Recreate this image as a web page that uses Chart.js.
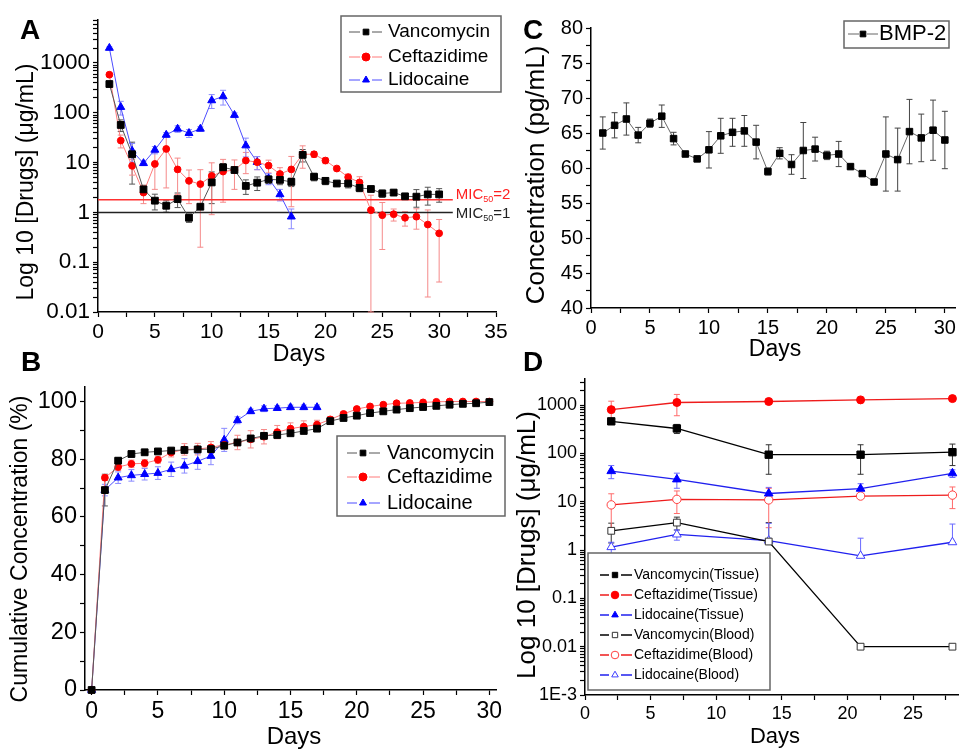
<!DOCTYPE html>
<html>
<head>
<meta charset="utf-8">
<script src="https://cdn.jsdelivr.net/npm/chart.js@4.4.1/dist/chart.umd.min.js"></script>
<style>
  body { margin: 0; background: #fff; width: 959px; height: 749px; position: relative; overflow: hidden; font-family: "Liberation Sans", Arial, sans-serif; }
  .panel { position: absolute; }
  .tag { position: absolute; font: bold 28px "Liberation Sans", Arial, sans-serif; line-height: 28px; color: #000; }
</style>
</head>
<body>
<div class="panel" style="left:0;top:0;width:525px;height:370px"><canvas id="chartA"></canvas></div>
<div class="panel" style="left:0;top:370px;width:525px;height:379px"><canvas id="chartB"></canvas></div>
<div class="panel" style="left:480px;top:0;width:479px;height:370px"><canvas id="chartC"></canvas></div>
<div class="panel" style="left:480px;top:365px;width:479px;height:384px"><canvas id="chartD"></canvas></div>
<div class="tag" style="left:20px;top:16px">A</div>
<div class="tag" style="left:21px;top:348px">B</div>
<div class="tag" style="left:523px;top:16px">C</div>
<div class="tag" style="left:523px;top:348px">D</div>

<script>
// ---- panel A: daily release, log scale ----
const daysA = [1,2,3,4,5,6,7,8,9,10,11,12,13,14,15,16,17,18,19,20,21,22,23,24,25,26,27,28,29,30];
const vancA = [378,57,14.7,2.9,1.72,1.36,1.85,0.78,1.3,4.0,8.05,7.1,3.4,3.95,4.6,4.5,4.1,14.3,5.2,4.3,3.8,3.8,3.1,2.95,2.4,2.5,2.1,2.07,2.3,2.3];
const vancAErr = [30,15,11,0.6,0.6,0.35,0.6,0.15,0.1,2.5,1.5,0.8,1.1,1.2,0.8,0.9,0.8,4,0.9,0.7,0.4,0.7,0.5,0.2,0.4,0.3,0.2,0.8,0.9,0.7];
const ceftA = [582,27.7,8.6,2.5,9.4,18.8,7.3,4.3,3.7,5.4,6.6,7.1,11,10.2,8.7,5.9,7.3,14.7,14.7,11,7.6,5.1,4.0,1.11,0.88,0.92,0.78,0.82,0.57,0.38];
const ceftAErr = [40,8,3,1,6.5,15.7,5,2.8,3.5,4.5,5,4.2,5,3,2.5,2,6,7,2,1.5,0.8,0.8,1.2,1.1,0.7,0.25,0.25,0.36,0.55,0.34];
const lidoDaysA = [1,2,3,4,5,6,7,8,9,10,11,12,13,14,15,16,17];
const lidoA = [2000,130,17.2,9.7,18,36,47.6,39,47.6,177,213,90,22,10.2,4.8,2.3,0.82];
const lidoAErr = [100,40,7,1,3,4,7,7,5,55,70,10,9,3,1.2,0.6,0.35];
const micLevels = [1.8, 1];
const micLabels = ['2', '1'];
const micLineEnd = 31.2;

// ---- panel B: cumulative release ----
const daysB = [0,1,2,3,4,5,6,7,8,9,10,11,12,13,14,15,16,17,18,19,20,21,22,23,24,25,26,27,28,29,30];
const vancB = [0,69.3,79.5,81.8,82.4,82.7,83.0,83.2,83.4,83.5,84.7,85.8,87.2,88.1,88.4,89.0,89.8,90.6,93.2,94.3,95.1,96.0,96.6,97.2,97.7,98.1,98.5,98.9,99.2,99.4,99.8];
const vancBErr = [0,5.5,1,0.6,0.5,0.5,0.5,0.6,0.6,0.6,0.8,1,1,1,1,0.8,0.8,0.8,0.6,0.6,0.5,0.5,0.4,0.4,0.4,0.3,0.3,0.3,0.3,0.3,0.2];
const ceftB = [0,73.6,77.3,78.4,78.6,79.8,82.3,83.4,83.5,84.1,85.0,85.8,86.9,87.8,89.4,90.6,91.3,92.0,93.8,95.7,97.4,98.3,98.9,99.4,99.5,99.7,99.9,100,100,100,100];
const ceftBErr = [0,1,1.2,1.3,1.3,1.2,1.5,2,2,2,1.5,2.5,3,2.5,2.3,2,2,1.5,1,0.8,0.6,0.5,0.4,0.4,0.3,0.3,0.3,0.3,0.3,0.3,0.2];
const lidoDaysB = [0,1,2,3,4,5,6,7,8,9,10,11,12,13,14,15,16,17];
const lidoB = [0,69.3,73.6,74.4,74.8,75.2,76.5,77.7,79.3,81.1,86.7,93.5,96.6,97.5,97.7,98.0,98.0,98.0];
const lidoBErr = [0,2,2,2,2,2.2,2.5,2.5,2.8,3,4,1.2,0.8,1,0.8,0.8,0.8,0.8];

// ---- panel C: BMP-2 ----
const daysC = [1,2,3,4,5,6,7,8,9,10,11,12,13,14,15,16,17,18,19,20,21,22,23,24,25,26,27,28,29,30];
const bmp2C = [65.0,66.1,67.0,64.7,66.4,67.4,64.2,62.0,61.3,62.6,64.6,65.1,65.3,63.7,59.5,62.1,60.5,62.5,62.7,61.8,62.0,60.2,59.2,58.0,62.0,61.2,65.2,64.3,65.4,64.0];
const bmp2CErr = [2.3,1.8,2.3,1.1,0.6,1.6,0.9,0.3,0.2,2.6,2.5,2.0,2.2,2.4,0.5,0.8,1.4,4.0,1.7,0.6,1.8,0.3,0.3,0.3,5.3,4.5,4.6,3.4,4.3,4.1];

// ---- panel D: tissue / blood ----
const daysD = [2,7,14,21,28];
const vancTissueD = [461,328,94,94,106];
const vancTissueDErr = [50,70,57,57,50];
const ceftTissueD = [805,1132,1186,1282,1362];
const ceftTissueDErr = [400,530,150,100,80];
const lidoTissueD = [43,29,14.8,18.6,38.7];
const lidoTissueDErr = [13,10,5,5,7];
const vancBloodD = [2.5,3.7,1.5,0.01,0.01];
const vancBloodDErr = [1.1,1.1,2.2,0,0];
const ceftBloodD = [8.6,11.2,10.9,13.1,13.7];
const ceftBloodDErr = [6,5.5,8,1.5,6.5];
const lidoBloodD = [1.15,2.1,1.57,0.76,1.45];
const lidoBloodDErr = [0.3,0.5,2,1.0,2.0];

const FONT = '"Liberation Sans", Arial, Helvetica, sans-serif';
Chart.defaults.font.family = FONT;
Chart.defaults.color = '#000';

// vertical error bars, drawn through the scales
const errorBars = {
  id: 'errorBars',
  beforeDatasetsDraw(chart) {
    const { ctx, scales: { x, y } } = chart;
    chart.data.datasets.forEach(ds => {
      if (!ds.errors) return;
      ctx.save();
      ctx.strokeStyle = ds.errorColor || ds.borderColor;
      ctx.lineWidth = 1;
      const cap = ds.errorCap || 3;
      ds.data.forEach((p, j) => {
        const e = ds.errors[j];
        if (!e) return;
        const px = x.getPixelForValue(p.x);
        const py = y.getPixelForValue(p.y);
        const top = y.getPixelForValue(p.y + e);
        const lo = p.y - e;
        const hasLow = y.type !== 'logarithmic' || lo > 0;
        const bottom = hasLow ? y.getPixelForValue(lo) : py;
        ctx.beginPath();
        ctx.moveTo(px, top); ctx.lineTo(px, bottom);
        ctx.moveTo(px - cap, top); ctx.lineTo(px + cap, top);
        if (hasLow) { ctx.moveTo(px - cap, bottom); ctx.lineTo(px + cap, bottom); }
        ctx.stroke();
      });
      ctx.restore();
    });
  }
};

// Origin-style boxed legend
const boxLegend = {
  id: 'boxLegend',
  afterDraw(chart, args, o) {
    if (!o.box) return;
    const ctx = chart.ctx;
    const [bx, by, bw, bh] = o.box;
    ctx.save();
    ctx.fillStyle = '#fff';
    ctx.fillRect(bx, by, bw, bh);
    ctx.strokeStyle = '#666';
    ctx.lineWidth = 1.5;
    ctx.strokeRect(bx, by, bw, bh);
    ctx.font = o.font;
    ctx.textBaseline = 'middle';
    ctx.textAlign = 'left';
    const items = chart.data.datasets.filter(d => d.label);
    items.forEach((ds, i) => {
      const y = o.rows[i];
      ctx.strokeStyle = ds.borderColor;
      ctx.lineWidth = ds.borderWidth;
      ctx.beginPath();
      ctx.moveTo(o.line[0], y); ctx.lineTo(o.mark - o.gap, y);
      ctx.moveTo(o.mark + o.gap, y); ctx.lineTo(o.line[1], y);
      ctx.stroke();
      ctx.fillStyle = ds.pointBackgroundColor;
      ctx.strokeStyle = ds.pointBorderColor;
      ctx.lineWidth = 1;
      Chart.helpers.drawPoint(ctx, { pointStyle: ds.pointStyle, rotation: 0, radius: o.r, borderWidth: 1 }, o.mark, y);
      ctx.fillStyle = '#000';
      ctx.fillText(ds.label, o.text, y);
    });
    ctx.restore();
  }
};

// axis titles
const panelText = {
  id: 'panelText',
  afterDraw(chart, args, o) {
    if (!o.items) return;
    const ctx = chart.ctx;
    o.items.forEach(it => {
      ctx.save();
      ctx.translate(it.x, it.y);
      if (it.rot) ctx.rotate(it.rot);
      ctx.font = it.size + 'px ' + FONT;
      ctx.fillStyle = '#000';
      ctx.textAlign = 'center';
      ctx.textBaseline = 'middle';
      ctx.fillText(it.text, 0, 0);
      ctx.restore();
    });
  }
};

// MIC labels at the end of the reference lines
const endLabels = {
  id: 'endLabels',
  afterDatasetsDraw(chart) {
    const { ctx, scales: { x, y } } = chart;
    chart.data.datasets.forEach(ds => {
      if (!ds.endLabel) return;
      const last = ds.data[ds.data.length - 1];
      let px = x.getPixelForValue(last.x) + 3;
      const py = y.getPixelForValue(last.y) + ds.endLabel.dy;
      ctx.save();
      ctx.fillStyle = ds.endLabel.color;
      ctx.textBaseline = 'middle';
      ctx.textAlign = 'left';
      ds.endLabel.parts.forEach(([t, sub]) => {
        ctx.font = (sub ? '9px ' : '15px ') + FONT;
        ctx.fillText(t, px, sub ? py + 5 : py);
        px += ctx.measureText(t).width;
      });
      ctx.restore();
    });
  }
};

Chart.register(errorBars, boxLegend, panelText, endLabels);

function stepTicks(min, max, step) {
  const out = [];
  for (let v = min; v <= max + 1e-9; v += step) out.push(+v.toFixed(6));
  return out;
}
function logTicks(min, max) {
  const out = [];
  for (let e = Math.floor(Math.log10(min)); e <= Math.ceil(Math.log10(max)); e++) {
    for (let m = 1; m < 10; m++) {
      const v = +(m * Math.pow(10, e)).toPrecision(6);
      if (v >= min * 0.999 && v <= max) out.push(v);
    }
  }
  return out;
}
const isPow10 = v => Math.abs(Math.log10(v) - Math.round(Math.log10(v))) < 1e-9;
const every = n => v => (Math.abs(v / n - Math.round(v / n)) < 1e-6 ? String(v) : '');

function axis(type, min, max, values, label, size, fit, vertical) {
  return {
    type, min, max,
    border: { color: '#000', width: 1.5 },
    grid: { drawOnChartArea: false, drawTicks: true, tickLength: 5, color: '#000', tickWidth: 1.2 },
    ticks: { autoSkip: false, maxRotation: 0, color: '#000', font: { size }, padding: 3, callback: label },
    afterBuildTicks: s => { s.ticks = values.map(v => ({ value: v })); },
    afterFit: s => { if (vertical) s.width = fit; else s.height = fit; }
  };
}

function series(label, xs, ys, errs, st) {
  return {
    label,
    data: ys.map((v, i) => ({ x: xs[i], y: v })),
    errors: errs,
    errorColor: st.err,
    borderColor: st.line,
    borderWidth: st.lw || 1,
    pointStyle: st.shape,
    pointRadius: st.r,
    pointBackgroundColor: st.fill || st.mark,
    pointBorderColor: st.mark,
    pointBorderWidth: 1,
    tension: 0,
    clip: false
  };
}

function options(pad, x, y, legend, titles) {
  return {
    responsive: true,
    maintainAspectRatio: false,
    animation: false,
    events: [],
    layout: { padding: pad, autoPadding: false },
    scales: { x, y },
    plugins: {
      legend: { display: false },
      tooltip: { enabled: false },
      boxLegend: legend,
      panelText: { items: titles }
    }
  };
}

const VANC = { line: '#555', mark: '#000', err: '#555', shape: 'rect', r: 4.8 };
const CEFT = { line: '#ff7a7a', mark: '#ff0000', err: '#f58a8a', shape: 'circle', r: 3.4 };
const LIDO = { line: '#4d4dff', mark: '#0000ff', err: '#8a8aff', shape: 'triangle', r: 4.6 };

// ---- A ----
const micSets = micLevels.map((lvl, i) => ({
  data: [{ x: 0, y: lvl }, { x: micLineEnd, y: lvl }],
  borderColor: i === 0 ? '#ff3030' : '#222',
  borderWidth: 1.5,
  pointRadius: 0,
  clip: false,
  endLabel: { parts: [['MIC', 0], ['50', 1], ['=' + micLabels[i], 0]], dy: i === 0 ? -5 : 1, color: i === 0 ? '#ff2020' : '#222' }
}));

new Chart(document.getElementById('chartA'), {
  type: 'line',
  data: {
    datasets: [
      series('Vancomycin', daysA, vancA, vancAErr, VANC),
      series('Ceftazidime', daysA, ceftA, ceftAErr, CEFT),
      series('Lidocaine', lidoDaysA, lidoA, lidoAErr, LIDO),
      ...micSets
    ]
  },
  options: options(
    { left: 0, top: 20, right: 29, bottom: 0 },
    axis('linear', 0, 35, stepTicks(0, 35, 2.5), every(5), 21, 58, false),
    axis('logarithmic', 0.01, 7300, logTicks(0.01, 7300), v => (isPow10(v) ? String(v) : ''), 22.5, 98, true),
    { box: [341, 16, 160, 76], rows: [32, 57, 80], line: [349, 382], mark: 366, gap: 6, r: 4, text: 388, font: '19px ' + FONT },
    [
      { text: 'Log 10 [Drugs] (\u03bcg/mL)', x: 27, y: 182, rot: -Math.PI / 2, size: 23 },
      { text: 'Days', x: 299, y: 355, size: 23 }
    ]
  )
});

// ---- B ----
new Chart(document.getElementById('chartB'), {
  type: 'line',
  data: {
    datasets: [
      series('Vancomycin', daysB, vancB, vancBErr, VANC),
      series('Ceftazidime', daysB, ceftB, ceftBErr, CEFT),
      series('Lidocaine', lidoDaysB, lidoB, lidoBErr, LIDO)
    ]
  },
  options: options(
    { left: 0, top: 13, right: 29, bottom: 0 },
    axis('linear', -0.5, 30.5, stepTicks(0, 30, 2.5), every(5), 23, 59, false),
    axis('linear', 0, 105, stepTicks(0, 100, 10), every(20), 23.5, 85, true),
    { box: [337, 66, 168, 80], rows: [83, 107, 133], line: [347, 380], mark: 363, gap: 6, r: 4, text: 387, font: '20px ' + FONT },
    [
      { text: 'Cumulative Concentration (%)', x: 21, y: 179, rot: -Math.PI / 2, size: 23 },
      { text: 'Days', x: 294, y: 367, size: 24 }
    ]
  )
});

// ---- C ----
new Chart(document.getElementById('chartC'), {
  type: 'line',
  data: {
    datasets: [
      series('BMP-2', daysC, bmp2C, bmp2CErr, { line: '#666', mark: '#000', err: '#444', shape: 'rect', r: 4.6 })
    ]
  },
  options: options(
    { left: 0, top: 28, right: 1, bottom: 0 },
    axis('linear', 0, 30.9, stepTicks(0, 30, 2.5), every(5), 20, 62, false),
    axis('linear', 40, 80, stepTicks(40, 80, 2.5), every(5), 20, 111, true),
    { box: [364, 21, 105, 27], rows: [34], line: [368, 398], mark: 383, gap: 4, r: 4, text: 399, font: '22px ' + FONT },
    [
      { text: 'Concentration (pg/mL)', x: 57, y: 175, rot: -Math.PI / 2, size: 26 },
      { text: 'Days', x: 295, y: 350, size: 23 }
    ]
  )
});

// ---- D ----
const dFmt = v => (isPow10(v) ? (v === 0.001 ? '1E-3' : String(v)) : '');
new Chart(document.getElementById('chartD'), {
  type: 'line',
  data: {
    datasets: [
      series('Vancomycin(Tissue)', daysD, vancTissueD, vancTissueDErr, { line: '#000', mark: '#000', err: '#333', shape: 'rect', r: 5.2, lw: 1.3 }),
      series('Ceftazidime(Tissue)', daysD, ceftTissueD, ceftTissueDErr, { line: '#ee1c1c', mark: '#ff0000', err: '#ff6a6a', shape: 'circle', r: 4, lw: 1.3 }),
      series('Lidocaine(Tissue)', daysD, lidoTissueD, lidoTissueDErr, { line: '#2020ee', mark: '#0000ff', err: '#6a6aff', shape: 'triangle', r: 5, lw: 1.3 }),
      series('Vancomycin(Blood)', daysD, vancBloodD, vancBloodDErr, { line: '#000', mark: '#333', fill: '#fff', err: '#333', shape: 'rect', r: 4.8, lw: 1.3 }),
      series('Ceftazidime(Blood)', daysD, ceftBloodD, ceftBloodDErr, { line: '#ee1c1c', mark: '#ff4040', fill: '#fff', err: '#ff6a6a', shape: 'circle', r: 4.2, lw: 1.3 }),
      series('Lidocaine(Blood)', daysD, lidoBloodD, lidoBloodDErr, { line: '#2020ee', mark: '#4040ff', fill: '#fff', err: '#6a6aff', shape: 'triangle', r: 5, lw: 1.3 })
    ]
  },
  options: options(
    { left: 0, top: 5, right: 0, bottom: 0 },
    axis('linear', 0, 28.5, stepTicks(0, 27.5, 2.5), every(5), 18, 54, false),
    axis('logarithmic', 0.001, 3500, logTicks(0.001, 3500), dFmt, 18, 105, true),
    { box: [108, 188, 182, 137], rows: [210, 230, 250, 270, 290, 310], line: [120, 152], mark: 135, gap: 6, r: 3.8, text: 154, font: '14px ' + FONT },
    [
      { text: 'Log 10 [Drugs] (\u03bcg/mL)', x: 48, y: 180, rot: -Math.PI / 2, size: 26 },
      { text: 'Days', x: 295, y: 372, size: 22 }
    ]
  )
});
</script>
</body>
</html>
